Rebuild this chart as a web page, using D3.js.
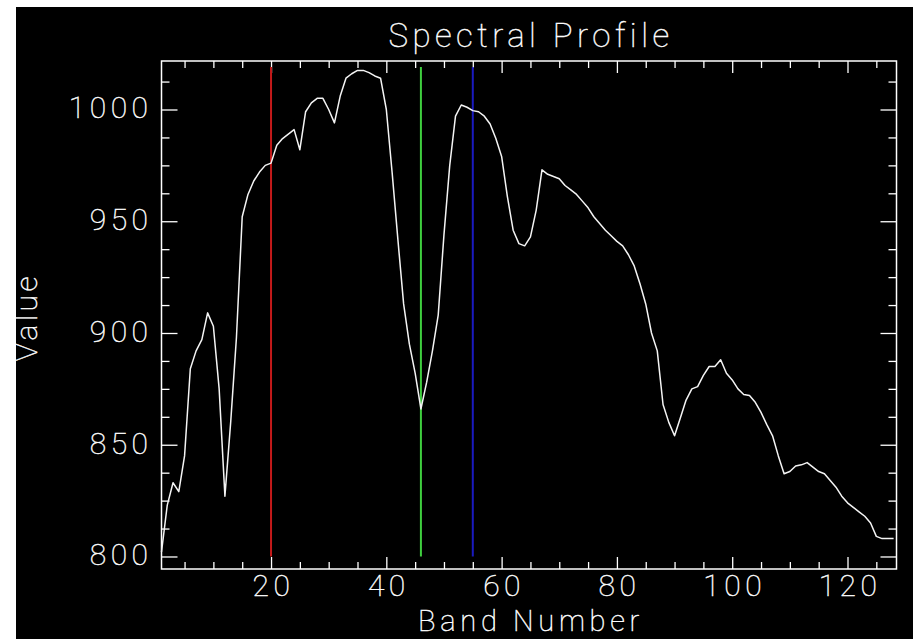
<!DOCTYPE html>
<html>
<head>
<meta charset="utf-8">
<script src="https://cdn.jsdelivr.net/npm/d3@7"></script>
<style>
    html, body { margin: 0; padding: 0; background: #fff; }
    svg { display: block; }
    .lbl { fill: #fff; stroke: #fff; stroke-width: 0.45px; font-family: Roboto, "DejaVu Sans", sans-serif; font-weight: 100; opacity: 0.99; }
</style>
</head>
<body>
<svg id="chart"></svg>
<script>
// spectral profile, one value per band (band 1..128)
const values = [
    802, 823, 833, 829, 845, 884, 892, 897, 909, 903,
    875, 827, 860, 898, 952, 962, 968, 972, 975, 976,
    984, 987, 989, 991, 982, 999, 1003, 1005, 1005, 1000,
    994, 1006, 1014, 1016, 1017.5, 1017.5, 1016.5, 1015, 1014, 1000,
    972, 942, 913, 895, 882, 866, 878, 892, 908, 944,
    975, 997, 1002, 1001, 999.5, 999, 997, 993.5, 987, 979,
    961, 946, 940, 939, 943, 955, 973, 971, 970, 969,
    966, 964, 962, 959, 956, 952, 949, 946, 943.5, 941,
    939, 935, 930, 922, 913, 900, 892, 868, 860, 854,
    862, 870, 875, 876, 881, 885, 885, 888, 882, 879,
    875, 872.5, 872, 869, 864.5, 859, 854, 845, 837, 838,
    840.5, 841, 842, 840, 838, 837, 834, 831, 827, 824,
    822, 820, 818, 815, 809, 808, 808, 808
];

// selected bands shown as coloured markers
const markerBands = [20, 46, 55];
const markerColors = ['#c41a1a', '#3fcf3f', '#1a1abf'];
const markerRange = [800, 1019];

const xDomain = [1, 128.5];
const yDomain = [794.4, 1021.7];
const xMajor = [20, 40, 60, 80, 100, 120];
const xMinor = [5, 10, 15, 25, 30, 35, 45, 50, 55, 65, 70, 75, 85, 90, 95, 105, 110, 115, 125];
const yMajor = [800, 850, 900, 950, 1000];
const yMinor = [812.5, 825, 837.5, 862.5, 875, 887.5, 912.5, 925, 937.5, 962.5, 975, 987.5, 1012.5];

const W = 913, H = 639;
const M = { left: 161.5, right: 896.5, top: 61, bottom: 569 };

const svg = d3.select('#chart').attr('width', W).attr('height', H);

// white strip top/left, black canvas
svg.append('rect').attr('width', W).attr('height', H).attr('fill', '#fff');
svg.append('rect').attr('x', 16).attr('y', 7).attr('width', W - 16).attr('height', H - 7).attr('fill', '#000');

const x = d3.scaleLinear().domain(xDomain).range([M.left, M.right]);
const y = d3.scaleLinear().domain(yDomain).range([M.bottom, M.top]);

function styleAxis(g) {
    g.select('.domain').remove();
    g.selectAll('line').attr('stroke', '#fff').attr('stroke-width', 1.3);
}

// ticks pointing inward on all four sides
const bottom = svg.append('g').attr('transform', `translate(0,${M.bottom})`)
    .call(d3.axisBottom(x).tickValues(xMajor).tickSize(-12).tickPadding(6).tickFormat(d3.format('d')));
styleAxis(bottom);
svg.append('g').attr('transform', `translate(0,${M.bottom})`)
    .call(d3.axisBottom(x).tickValues(xMinor).tickSize(-7).tickFormat('')).call(styleAxis);
svg.append('g').attr('transform', `translate(0,${M.top})`)
    .call(d3.axisTop(x).tickValues(xMajor).tickSize(-12).tickFormat('')).call(styleAxis);
svg.append('g').attr('transform', `translate(0,${M.top})`)
    .call(d3.axisTop(x).tickValues(xMinor).tickSize(-7).tickFormat('')).call(styleAxis);

const left = svg.append('g').attr('transform', `translate(${M.left},0)`)
    .call(d3.axisLeft(y).tickValues(yMajor).tickSize(-16).tickPadding(9).tickFormat(d3.format('d')));
styleAxis(left);
svg.append('g').attr('transform', `translate(${M.left},0)`)
    .call(d3.axisLeft(y).tickValues(yMinor).tickSize(-8).tickFormat('')).call(styleAxis);
svg.append('g').attr('transform', `translate(${M.right},0)`)
    .call(d3.axisRight(y).tickValues(yMajor).tickSize(-16).tickFormat('')).call(styleAxis);
svg.append('g').attr('transform', `translate(${M.right},0)`)
    .call(d3.axisRight(y).tickValues(yMinor).tickSize(-8).tickFormat('')).call(styleAxis);

[bottom, left].forEach(g => g.selectAll('text')
    .attr('class', 'lbl')
    .style('font-size', '30px')
    .style('letter-spacing', '4.5px'));
left.selectAll('text').attr('dy', '0.28em');
bottom.selectAll('text').attr('dx', '2px');

// frame
svg.append('rect')
    .attr('x', M.left).attr('y', M.top)
    .attr('width', M.right - M.left).attr('height', M.bottom - M.top)
    .attr('fill', 'none').attr('stroke', '#fff').attr('stroke-width', 1.5);

// band markers
svg.selectAll('.marker').data(markerBands).enter()
    .append('line')
    .attr('class', 'marker')
    .attr('x1', d => x(d)).attr('x2', d => x(d))
    .attr('y1', y(markerRange[0])).attr('y2', y(markerRange[1]))
    .attr('stroke', (d, i) => markerColors[i])
    .attr('stroke-width', 2);

// profile line
const line = d3.line().x(d => x(d[0])).y(d => y(d[1]));
svg.append('path')
    .datum(values.map((v, i) => [i + 1, v]))
    .attr('d', line)
    .attr('fill', 'none')
    .attr('stroke', '#f4f4f4')
    .attr('stroke-width', 1.5)
    .attr('stroke-linejoin', 'round');

// titles
svg.append('text').attr('class', 'lbl')
    .attr('x', (M.left + M.right) / 2 + 2).attr('y', 46.5)
    .attr('text-anchor', 'middle')
    .style('font-size', '33px').style('letter-spacing', '4.5px')
    .text('Spectral Profile');

svg.append('text').attr('class', 'lbl')
    .attr('x', (M.left + M.right) / 2 + 2).attr('y', 631)
    .attr('text-anchor', 'middle')
    .style('font-size', '29px').style('letter-spacing', '4.7px')
    .text('Band Number');

svg.append('text').attr('class', 'lbl')
    .attr('transform', `translate(37,${(M.top + M.bottom) / 2 + 2}) rotate(-90)`)
    .attr('text-anchor', 'middle')
    .style('font-size', '30px').style('letter-spacing', '3.5px')
    .text('Value');
</script>
</body>
</html>
